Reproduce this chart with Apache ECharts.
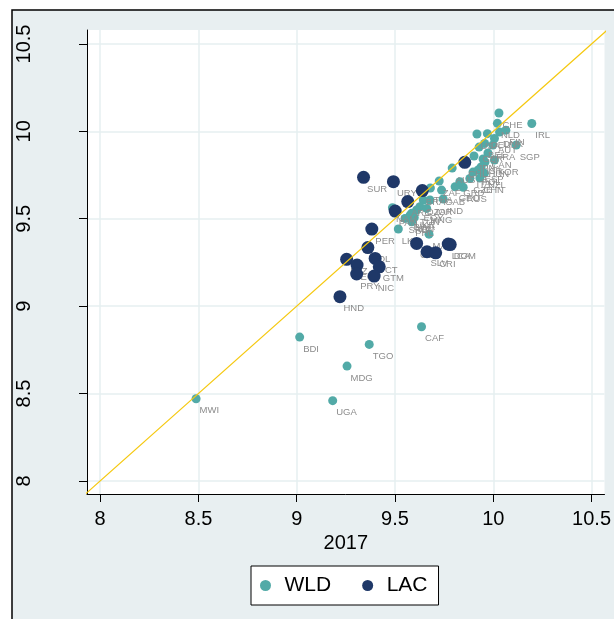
<!DOCTYPE html>
<html>
<head>
<meta charset="utf-8">
<script src="https://cdn.jsdelivr.net/npm/echarts@6/dist/echarts.min.js"></script>
<style>
    html, body { margin: 0; padding: 0; background: #fff; }
    #chart { width: 614px; height: 619px; }
</style>
</head>
<body>
<div id="chart"></div>
<script>
// country codes, x = 2017, y = comparison year
const wldCodes = [
    'MWI', 'BDI', 'TGO', 'MDG', 'UGA', 'CAF',
    'SUR', 'URY', 'BRA', 'ARG', 'PAN', 'PER', 'BOL', 'BLZ', 'ECU', 'PRY',
    'VCT', 'GTM', 'NIC', 'HND', 'COL', 'SLV', 'CRI', 'LCA', 'DOM', 'CHL',
    'CHE', 'IRL', 'NLD', 'USA', 'DEU', 'DNK', 'FIN', 'SGP', 'AUT', 'BEL',
    'FRA', 'GBR', 'JPN', 'CAN', 'ISR', 'KOR', 'ESP', 'ITA', 'NZL', 'AUS',
    'CZE', 'POL', 'CHN', 'HUN', 'GEO', 'RUS', 'GRD', 'ZAF', 'GAB', 'THA',
    'DZA', 'JOR', 'EGY', 'MNG', 'NAM', 'BWA', 'IDN', 'TUN', 'SRB', 'LKA',
    'PHL', 'MAR', 'IND', 'UKR'
];
const wldX = [
    8.488, 9.015, 9.369, 9.256, 9.183, 9.635,
    9.340, 9.492, 9.639, 9.565, 9.501, 9.382, 9.362, 9.254, 9.307, 9.305,
    9.399, 9.420, 9.394, 9.220, 9.610, 9.663, 9.707, 9.771, 9.781, 9.855,
    10.029, 10.196, 10.021, 9.917, 9.970, 10.032, 10.064, 10.117, 10.006, 9.956,
    9.998, 9.928, 9.902, 9.973, 9.948, 10.006, 9.938, 9.897, 9.955, 9.791,
    9.881, 9.923, 9.932, 9.958, 9.806, 9.847, 9.830, 9.725, 9.737, 9.680,
    9.644, 9.678, 9.627, 9.661, 9.487, 9.577, 9.598, 9.610, 9.551, 9.517,
    9.585, 9.673, 9.745, 9.585
];
const wldY = [
    8.470, 8.823, 8.781, 8.657, 8.459, 8.882,
    9.737, 9.712, 9.661, 9.598, 9.544, 9.441, 9.335, 9.268, 9.235, 9.184,
    9.273, 9.225, 9.172, 9.054, 9.359, 9.311, 9.305, 9.355, 9.352, 9.823,
    10.105, 10.045, 10.046, 9.985, 9.987, 9.996, 10.007, 9.922, 9.959, 9.931,
    9.922, 9.910, 9.859, 9.876, 9.842, 9.836, 9.796, 9.767, 9.761, 9.790,
    9.730, 9.779, 9.733, 9.824, 9.683, 9.680, 9.712, 9.716, 9.664, 9.676,
    9.607, 9.607, 9.569, 9.559, 9.563, 9.521, 9.507, 9.550, 9.502, 9.441,
    9.483, 9.412, 9.613, 9.531
];
// LAC countries, drawn on top of the world markers
const lacCodes = [
    'SUR', 'URY', 'BRA', 'ARG', 'PAN', 'PER', 'BOL', 'BLZ', 'ECU', 'PRY',
    'VCT', 'GTM', 'NIC', 'HND', 'COL', 'SLV', 'CRI', 'LCA', 'DOM', 'CHL'
];
const xTicks = [8, 8.5, 9, 9.5, 10, 10.5];
const yTicks = [8, 8.5, 9, 9.5, 10, 10.5];
const diagonal = [7.9, 10.6];

const font = 'Liberation Sans, Arial, sans-serif';

const wldData = wldCodes.map((c, i) => [wldX[i], wldY[i], c]);
const lacData = lacCodes.map(c => {
    const i = wldCodes.indexOf(c);
    return [wldX[i], wldY[i], c];
});

const chart = echarts.init(document.getElementById('chart'));

chart.setOption({
    backgroundColor: '#fff',
    animation: false,
    graphic: [
        {
            type: 'rect',
            z: -10,
            shape: { x: 12, y: 10, width: 700, height: 700 },
            style: { fill: '#e8eff1', stroke: '#000', lineWidth: 1.5 }
        }
    ],
    grid: {
        left: 87,
        top: 30,
        right: 7,
        bottom: 125,
        show: true,
        backgroundColor: '#fff',
        borderWidth: 0
    },
    legend: {
        left: 251,
        top: 566,
        padding: [9, 11, 9, 9],
        itemGap: 31,
        itemWidth: 28,
        itemHeight: 11,
        backgroundColor: '#fff',
        borderColor: '#000',
        borderWidth: 1,
        textStyle: { fontFamily: font, fontSize: 21, color: '#000' },
        data: [
            { name: 'WLD', icon: 'circle' },
            { name: 'LAC', icon: 'circle' }
        ]
    },
    xAxis: {
        type: 'value',
        min: 7.933,
        max: 10.566,
        name: '2017',
        nameLocation: 'middle',
        nameGap: 38,
        nameTextStyle: { fontFamily: font, fontSize: 20, color: '#000' },
        axisLine: { onZero: false, lineStyle: { color: '#000', width: 1 } },
        axisTick: { customValues: xTicks, length: 8, lineStyle: { color: '#000' } },
        axisLabel: {
            customValues: xTicks,
            margin: 15,
            fontFamily: font,
            fontSize: 20,
            color: '#000'
        },
        splitLine: { lineStyle: { color: '#e6eff1', width: 1.5 } }
    },
    yAxis: {
        type: 'value',
        min: 7.925,
        max: 10.58,
        axisLine: { show: true, onZero: false, lineStyle: { color: '#000', width: 1 } },
        axisTick: { show: true, customValues: yTicks, length: 8, lineStyle: { color: '#000' } },
        axisLabel: {
            customValues: yTicks,
            rotate: 90,
            margin: 53,
            fontFamily: font,
            fontSize: 20,
            color: '#000'
        },
        splitLine: { lineStyle: { color: '#e6eff1', width: 1.5 } }
    },
    series: [
        {
            name: 'WLD',
            type: 'scatter',
            z: 2,
            symbolSize: 9,
            itemStyle: { color: '#52aaa7', opacity: 1 },
            label: {
                show: true,
                position: 'inside',
                align: 'left',
                verticalAlign: 'middle',
                offset: [3.5, 12],
                formatter: p => p.value[2],
                fontFamily: font,
                fontSize: 9.5,
                color: '#8c8c8c'
            },
            data: wldData
        },
        {
            name: 'LAC',
            type: 'scatter',
            z: 3,
            symbolSize: 13,
            itemStyle: { color: '#1f3868', opacity: 1 },
            data: lacData
        },
        {
            name: 'diag',
            type: 'line',
            z: 4,
            silent: true,
            symbol: 'none',
            lineStyle: { color: '#f5c80f', width: 1.2 },
            data: diagonal.map(v => [v, v])
        }
    ]
});
</script>
</body>
</html>
